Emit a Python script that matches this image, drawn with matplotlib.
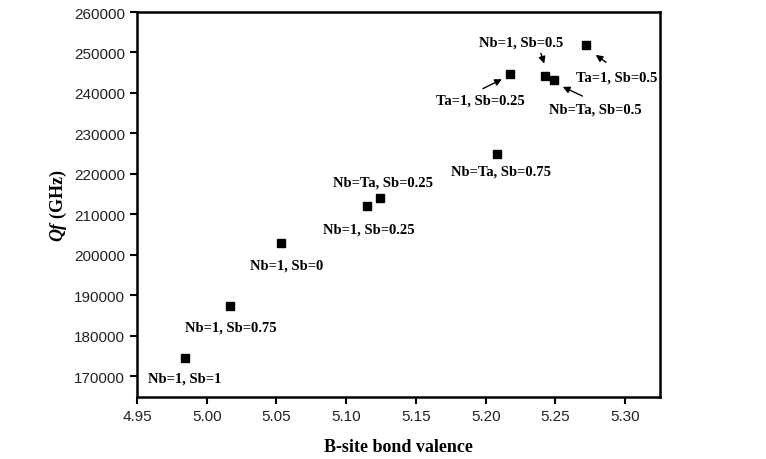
import matplotlib
matplotlib.use("Agg")
import matplotlib.pyplot as plt

plt.rcParams['mathtext.fontset'] = 'custom'
plt.rcParams['mathtext.bfit'] = 'Liberation Serif:italic:bold'
plt.rcParams['mathtext.it'] = 'Liberation Serif:italic'
plt.rcParams['mathtext.bf'] = 'Liberation Serif:bold'
plt.rcParams['mathtext.rm'] = 'Liberation Serif'

# data
bond_valence = [4.9845, 5.0166, 5.0536, 5.1150, 5.1244, 5.2084, 5.2175, 5.2426, 5.2490, 5.2719]
qf = [174500, 187300, 203000, 212100, 214100, 225000, 244700, 244300, 243200, 251900]
labels = ["Nb=1, Sb=1", "Nb=1, Sb=0.75", "Nb=1, Sb=0", "Nb=1, Sb=0.25", "Nb=Ta, Sb=0.25",
          "Nb=Ta, Sb=0.75", "Ta=1, Sb=0.25", "Nb=1, Sb=0.5", "Nb=Ta, Sb=0.5", "Ta=1, Sb=0.5"]
label_x = [4.9844, 5.0173, 5.0572, 5.1161, 5.1261, 5.2113, 5.1962, 5.2256, 5.2786, 5.2943]
label_y = [169700, 182300, 197400, 206300, 218000, 220800, 238300, 252500, 236100, 243900]
# arrows: (tail x, tail y, head x, head y)
arrows = [(5.1962, 240750, 5.2134, 243710),
          (5.2390, 250450, 5.2426, 246600),
          (5.2879, 247170, 5.2773, 249810),
          (5.2712, 238950, 5.2535, 241810)]
xticks = [4.95, 5.00, 5.05, 5.10, 5.15, 5.20, 5.25, 5.30]
yticks = [170000, 180000, 190000, 200000, 210000, 220000, 230000, 240000, 250000, 260000]

fig = plt.figure(figsize=(7.66, 4.6), dpi=100)
ax = fig.add_axes([137/766, 1 - 397.7/460, (660-137)/766, (397.7-13)/460])
ax.plot(bond_valence, qf, 's', color='black', markersize=6.2, linestyle='none')

serif_bold = dict(family='Liberation Serif', weight='bold')
for lx, ly, t in zip(label_x, label_y, labels):
    ax.text(lx, ly, t, ha='center', va='center', fontsize=10.5, **serif_bold)
for tx, ty, hx, hy in arrows:
    ax.annotate('', xy=(hx, hy), xytext=(tx, ty),
                arrowprops=dict(arrowstyle='-|>', color='black', lw=1, mutation_scale=10))

ax.set_xlim(4.95, 5.325)
ax.set_ylim(165000, 260000)
ax.set_xticks(xticks)
ax.set_xticklabels([f"{v:.2f}" for v in xticks])
ax.set_yticks(yticks)
ax.set_yticklabels([str(v) for v in yticks])
for lab in ax.get_xticklabels() + ax.get_yticklabels():
    lab.set_family('Liberation Sans')
    lab.set_fontsize(11)
    lab.set_color('#222222')
ax.tick_params(direction='out', length=5, width=1.5, top=False, right=False)
for s in ax.spines.values():
    s.set_linewidth(1.8)

ax.set_xlabel('B-site bond valence', fontsize=13, labelpad=11, **serif_bold)
ax.set_ylabel(r'$\mathbfit{Qf}$ (GHz)', fontsize=13, labelpad=4, **serif_bold)

fig.savefig('out.png', dpi=100)
